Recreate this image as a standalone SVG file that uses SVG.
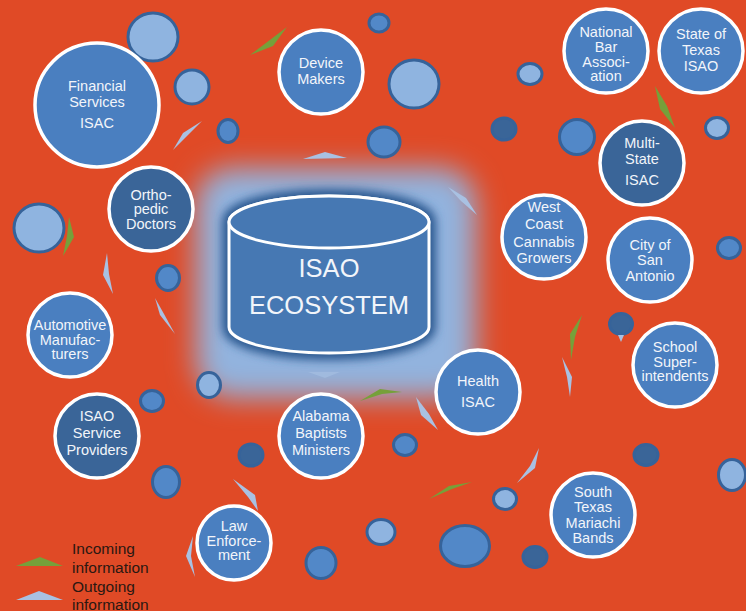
<svg xmlns="http://www.w3.org/2000/svg" width="746" height="611" viewBox="0 0 746 611">
<defs>
<style>
.node{stroke:#FFFFFF;stroke-width:3.5}
.mid{fill:#4A7FC0}
.dark{fill:#3A6598}
.lbl{font-family:"Liberation Sans",Arial,sans-serif;font-size:14.5px;fill:#F2F5FA;text-anchor:middle}
.bub{stroke:#36639A;stroke-width:3}
.bl{fill:#8FB4E0}
.bm{fill:#5288C8}
.bd{fill:#3A6598}
.inc{fill:#76A03A}
.out{fill:#A9C1E2}
.leg{font-family:"Liberation Sans",Arial,sans-serif;font-size:15.5px;fill:#2A1812}
</style>
<filter id="glow" x="-40%" y="-40%" width="180%" height="180%"><feGaussianBlur stdDeviation="14"/></filter>
<filter id="shade" x="-20%" y="-30%" width="140%" height="160%"><feGaussianBlur stdDeviation="5"/></filter>
</defs>
<rect x="0" y="0" width="746" height="611" fill="#E04A26"/>

<!-- central glow -->
<rect x="196" y="168" width="280" height="230" rx="36" fill="#92B3DE" filter="url(#glow)"/>

<!-- decorative bubbles -->
<g id="bubbles">
<ellipse class="bub bl" cx="153" cy="37" rx="25" ry="24"/>
<ellipse class="bub bl" cx="192" cy="87" rx="17" ry="17"/>
<ellipse class="bub bm" cx="228" cy="131" rx="10" ry="11.5"/>
<ellipse class="bub bm" cx="379" cy="23" rx="10" ry="9"/>
<ellipse class="bub bm" cx="384" cy="142" rx="16" ry="15"/>
<ellipse class="bub bl" cx="414" cy="84" rx="25" ry="24"/>
<ellipse class="bub bl" cx="530" cy="74" rx="12" ry="10.5"/>
<ellipse class="bub bd" cx="504" cy="129" rx="12" ry="11"/>
<ellipse class="bub bm" cx="577" cy="137" rx="17.5" ry="17.5"/>
<ellipse class="bub bl" cx="717" cy="128" rx="11.5" ry="10.5"/>
<ellipse class="bub bl" cx="39" cy="228" rx="25" ry="24"/>
<ellipse class="bub bm" cx="168" cy="278" rx="11.5" ry="12.5"/>
<ellipse class="bub bl" cx="209" cy="385" rx="11.5" ry="12.5"/>
<ellipse class="bub bm" cx="152" cy="401" rx="11.5" ry="10.5"/>
<ellipse class="bub bm" cx="166" cy="482" rx="13.5" ry="15.5"/>
<ellipse class="bub bd" cx="251" cy="455" rx="12" ry="11"/>
<ellipse class="bub bm" cx="321" cy="563" rx="15" ry="15.5"/>
<ellipse class="bub bl" cx="381" cy="532" rx="14" ry="12.5"/>
<ellipse class="bub bm" cx="405" cy="445" rx="11.5" ry="10.5"/>
<ellipse class="bub bl" cx="505" cy="499" rx="11.5" ry="10.5"/>
<ellipse class="bub bm" cx="465" cy="546" rx="24.5" ry="20.5"/>
<ellipse class="bub bd" cx="535" cy="557" rx="12" ry="10.5"/>
<ellipse class="bub bd" cx="646" cy="455" rx="12" ry="10.5"/>
<ellipse class="bub bl" cx="732" cy="475" rx="13.5" ry="15.5"/>
<ellipse class="bub bm" cx="729" cy="248" rx="11.5" ry="10.5"/>
<ellipse class="bub bd" cx="621" cy="324" rx="11.5" ry="10.5"/>
</g>

<!-- information arrows -->
<g id="connectors">
<polygon class="inc" points="287,27 250,55 273,46"/>
<polygon class="inc" points="655,86 667,106 675,128 660,109"/>
<polygon class="inc" points="69,217 74,237 63,256 67,236"/>
<polygon class="inc" points="582,315 570,334 571,360 575,337"/>
<polygon class="inc" points="360,401 380,389 402,392 382,394"/>
<polygon class="inc" points="429,499 449,486 472,482 452,489"/>
<polygon class="out" points="202,121 183,133 173,150 189,134"/>
<polygon class="out" points="303,159 325,152 347,158"/>
<polygon class="out" points="448,187 466,198 477,215 461,201"/>
<polygon class="out" points="107,253 103,275 113,294 109,274"/>
<polygon class="out" points="155,298 164,314 175,334 160,315"/>
<polygon class="out" points="416,397 429,414 438,430 421,415"/>
<polygon class="out" points="539,448 535,468 517,483 530,466"/>
<polygon class="out" points="562,357 572,377 570,397 567,377"/>
<polygon class="out" points="233,479 255,495 258,511 248,497"/>
<polygon class="out" points="193,536 186,556 195,577 191,556"/>
<polygon class="out" points="308,372 340,372 325,378" opacity="0.6"/>
<polygon class="out" points="618,335 624,335 621,342"/>
</g>

<!-- central cylinder -->
<g id="isao-ecosystem">
<path d="M229,222 L229,327 A100,26 0 0 0 429,327 L429,222 A100,26 0 0 0 229,222 Z" fill="#2C5990" stroke="#2C5990" stroke-width="14" stroke-linejoin="round" filter="url(#shade)"/>
<path d="M229,222 L229,327 A100,26 0 0 0 429,327 L429,222 A100,26 0 0 0 229,222 Z" fill="#4678B3" stroke="#FFFFFF" stroke-width="3"/>
<ellipse cx="329" cy="222" rx="100" ry="26" fill="#4678B3" stroke="#FFFFFF" stroke-width="3"/>
<text x="329" y="277" font-family="Liberation Sans,Arial,sans-serif" font-size="25.5" fill="#F2F5FA" text-anchor="middle">ISAO</text>
<text x="329" y="314" font-family="Liberation Sans,Arial,sans-serif" font-size="25.5" fill="#F2F5FA" text-anchor="middle">ECOSYSTEM</text>
</g>

<g id="financial-services-isac">
<circle class="node mid" cx="97" cy="105" r="62"/>
<text class="lbl" x="97" y="91">Financial</text>
<text class="lbl" x="97" y="107">Services</text>
<text class="lbl" x="97" y="128">ISAC</text>
</g>
<g id="device-makers">
<circle class="node mid" cx="321" cy="72" r="42"/>
<text class="lbl" x="321" y="68">Device</text>
<text class="lbl" x="321" y="84">Makers</text>
</g>
<g id="orthopedic-doctors">
<circle class="node dark" cx="151" cy="209" r="42"/>
<text class="lbl" x="151" y="200">Ortho-</text>
<text class="lbl" x="151" y="214">pedic</text>
<text class="lbl" x="151" y="229">Doctors</text>
</g>
<g id="automotive-manufacturers">
<circle class="node mid" cx="70" cy="335" r="42"/>
<text class="lbl" x="70" y="330">Automotive</text>
<text class="lbl" x="70" y="345">Manufac-</text>
<text class="lbl" x="70" y="359">turers</text>
</g>
<g id="isao-service-providers">
<circle class="node dark" cx="97" cy="436" r="42"/>
<text class="lbl" x="97" y="421">ISAO</text>
<text class="lbl" x="97" y="438">Service</text>
<text class="lbl" x="97" y="455">Providers</text>
</g>
<g id="alabama-baptists-ministers">
<circle class="node mid" cx="321" cy="436" r="42"/>
<text class="lbl" x="321" y="421">Alabama</text>
<text class="lbl" x="321" y="438">Baptists</text>
<text class="lbl" x="321" y="455">Ministers</text>
</g>
<g id="law-enforcement">
<circle class="node mid" cx="234" cy="543" r="37"/>
<text class="lbl" x="234" y="531">Law</text>
<text class="lbl" x="234" y="546">Enforce-</text>
<text class="lbl" x="234" y="560">ment</text>
</g>
<g id="health-isac">
<circle class="node mid" cx="478" cy="392" r="42"/>
<text class="lbl" x="478" y="386">Health</text>
<text class="lbl" x="478" y="407">ISAC</text>
</g>
<g id="west-coast-cannabis-growers">
<circle class="node mid" cx="544" cy="237" r="42"/>
<text class="lbl" x="544" y="212">West</text>
<text class="lbl" x="544" y="229">Coast</text>
<text class="lbl" x="544" y="247">Cannabis</text>
<text class="lbl" x="544" y="263">Growers</text>
</g>
<g id="city-of-san-antonio">
<circle class="node mid" cx="650" cy="260" r="42"/>
<text class="lbl" x="650" y="250">City of</text>
<text class="lbl" x="650" y="265">San</text>
<text class="lbl" x="650" y="281">Antonio</text>
</g>
<g id="school-superintendents">
<circle class="node mid" cx="675" cy="365" r="42"/>
<text class="lbl" x="675" y="352">School</text>
<text class="lbl" x="675" y="367">Super-</text>
<text class="lbl" x="675" y="381">intendents</text>
</g>
<g id="south-texas-mariachi-bands">
<circle class="node mid" cx="593" cy="515" r="42"/>
<text class="lbl" x="593" y="497">South</text>
<text class="lbl" x="593" y="512">Texas</text>
<text class="lbl" x="593" y="528">Mariachi</text>
<text class="lbl" x="593" y="543">Bands</text>
</g>
<g id="national-bar-association">
<circle class="node mid" cx="606" cy="51" r="42"/>
<text class="lbl" x="606" y="37">National</text>
<text class="lbl" x="606" y="52">Bar</text>
<text class="lbl" x="606" y="67">Associ-</text>
<text class="lbl" x="606" y="81">ation</text>
</g>
<g id="state-of-texas-isao">
<circle class="node mid" cx="701" cy="51" r="42"/>
<text class="lbl" x="701" y="39">State of</text>
<text class="lbl" x="701" y="55">Texas</text>
<text class="lbl" x="701" y="71">ISAO</text>
</g>
<g id="multi-state-isac">
<circle class="node dark" cx="642" cy="163" r="42"/>
<text class="lbl" x="642" y="148">Multi-</text>
<text class="lbl" x="642" y="164">State</text>
<text class="lbl" x="642" y="185">ISAC</text>
</g>

<g id="legend">
<polygon class="inc" points="16,566 40,557 63,566"/>
<polygon class="out" points="16,600 39,591 63,600"/>
<text class="leg" x="72" y="554">Incoming</text>
<text class="leg" x="72" y="573">information</text>
<text class="leg" x="72" y="592">Outgoing</text>
<text class="leg" x="72" y="610">information</text>
</g>
</svg>
